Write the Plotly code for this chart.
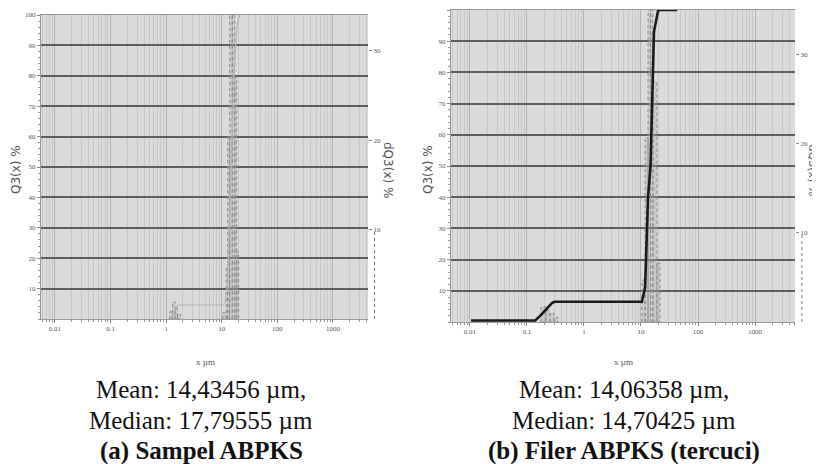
import plotly.graph_objects as go

# ---------------- data ----------------
# (a) Sampel ABPKS : cumulative Q3 (left axis) and class bars dQ3 (right axis)
a_q3_x = [1.1, 1.3, 1.45, 1.6, 10.5, 11.5, 12.5, 13.5, 15.0, 17.0, 19.0, 21.0]
a_q3_y = [0.0, 1.0, 3.0, 4.6, 4.6, 5.5, 10.0, 30.0, 60.0, 85.0, 97.0, 100.0]
a_bin_lo = [1.16, 1.30, 1.45, 1.60, 10.4, 12.0, 12.8, 13.9, 15.5, 17.2, 18.6]
a_bin_hi = [1.30, 1.45, 1.60, 1.82, 12.0, 12.8, 13.9, 15.5, 17.2, 18.6, 20.2]
a_dq3 = [0.8, 1.9, 1.2, 0.5, 0.7, 5.8, 20.4, 38.0, 36.0, 27.0, 7.5]

# (b) Filer ABPKS (tercuci)
b_q3_x = [0.0105, 0.14, 0.176, 0.233, 0.28, 0.31, 10.4, 11.8, 13.3, 14.7, 15.6, 16.9, 19.9, 21.5, 43.0]
b_q3_y = [0.5, 0.5, 2.2, 4.5, 6.2, 6.5, 6.5, 11.0, 40.0, 50.0, 68.0, 93.0, 99.7, 100.0, 100.0]
b_bin_lo = [0.176, 0.215, 0.253, 0.30, 10.4, 11.8, 13.3, 14.7, 16.2, 19.0]
b_bin_hi = [0.215, 0.253, 0.30, 0.35, 11.8, 13.3, 14.7, 16.2, 19.0, 21.5]
b_dq3 = [1.7, 1.3, 1.0, 0.5, 4.7, 20.7, 38.0, 38.0, 27.0, 6.6]

x_ticks = [0.01, 0.1, 1, 10, 100, 1000]
x_ticktext = ["0.01", "0.1", "1", "10", "100", "1000"]
q3_ticks = [10, 20, 30, 40, 50, 60, 70, 80, 90, 100]
dq3_ticks = [10, 20, 30]

captions = {
    "a": ["Mean: 14,43456 µm,", "Median: 17,79555 µm", "<b>(a) Sampel ABPKS</b>"],
    "b": ["Mean: 14,06358 µm,", "Median: 14,70425 µm", "<b>(b) Filer ABPKS (tercuci)</b>"],
}


def bar_polys(lo, hi, vals):
    xs, ys = [], []
    for l, h, v in zip(lo, hi, vals):
        xs += [l, l, h, h, l, None]
        ys += [0, v, v, 0, 0, None]
    return xs, ys


# the page body has an 8px default margin: the figure is 8px smaller and every
# target pixel position (in window coordinates) is shifted by OFF
OFF = 8
W, H = 820 - OFF, 464 - OFF
BG = "#dbdbdb"


def px_x(v):
    return (v - OFF) / W


def px_y(v):
    return 1 - (v - OFF) / H


def tickfont():
    return dict(family="Liberation Serif", size=7, color="#555555")


fig = go.Figure()

panels = [
    dict(x="x", yb="y", yo="y2", q3x=a_q3_x, q3y=a_q3_y, lo=a_bin_lo, hi=a_bin_hi, dq=a_dq3,
         px=(41, 368), py=(15, 319), xr=[-2.25, 3.63], dr=[0, 34],
         lcolor="#b4b4b4", lwidth=1.2),
    dict(x="x2", yb="y3", yo="y4", q3x=b_q3_x, q3y=b_q3_y, lo=b_bin_lo, hi=b_bin_hi, dq=b_dq3,
         px=(451, 795), py=(10, 322), xr=[-2.33, 3.70], dr=[0, 35],
         lcolor="#1a1a1a", lwidth=2.6),
]

layout = dict(
    width=W, height=H, paper_bgcolor="white", plot_bgcolor=BG,
    margin=dict(l=0, r=0, t=0, b=0, autoexpand=False), showlegend=False,
)

for p in panels:
    bx, by = bar_polys(p["lo"], p["hi"], p["dq"])
    fig.add_trace(go.Scatter(
        x=bx, y=by, xaxis=p["x"], yaxis=p["yb"], mode="lines", fill="toself",
        fillcolor="rgba(165,165,165,0.35)",
        line=dict(color="#8c8c8c", width=1, dash="dot"), hoverinfo="skip"))
    fig.add_trace(go.Scatter(
        x=p["q3x"], y=p["q3y"], xaxis=p["x"], yaxis=p["yo"], mode="lines",
        line=dict(color=p["lcolor"], width=p["lwidth"]), hoverinfo="skip"))

    xd = [px_x(p["px"][0]), px_x(p["px"][1])]
    yd = [px_y(p["py"][1]), px_y(p["py"][0])]
    xk = "xaxis" if p["x"] == "x" else "xaxis2"
    ybk = "yaxis" if p["yb"] == "y" else "yaxis" + p["yb"][1:]
    yok = "yaxis" + p["yo"][1:]

    layout[xk] = dict(
        type="log", domain=xd, range=p["xr"], anchor=p["yb"], automargin=False,
        tickvals=x_ticks, ticktext=x_ticktext, tickfont=tickfont(),
        showgrid=True, gridcolor="#b4b4b4", gridwidth=1,
        ticks="outside", ticklen=3, tickcolor="#888",
        showline=True, linecolor="#9a9a9a", linewidth=1, mirror=True,
        minor=dict(dtick="D1", showgrid=True, gridcolor="#c8c8c8", gridwidth=1,
                   ticks="outside", ticklen=2, tickcolor="#999"),
        zeroline=False, fixedrange=True,
    )
    layout[ybk] = dict(
        domain=yd, range=p["dr"], anchor=p["x"], side="right", automargin=False,
        tickvals=dq3_ticks, tickfont=tickfont(), ticks="outside", ticklen=3,
        tickcolor="#888", showgrid=False, showline=False, zeroline=False,
    )
    layout[yok] = dict(
        overlaying=p["yb"], side="left", anchor=p["x"], range=[0, 100], automargin=False,
        tickvals=q3_ticks, tickfont=tickfont(), ticks="outside", ticklen=3,
        tickcolor="#888", showgrid=True, gridcolor="#5e5e5e", gridwidth=1.6,
        showline=True, linecolor="#9a9a9a", mirror=False, zeroline=False,
        minor=dict(dtick=2, ticks="outside", ticklen=2, tickcolor="#999"),
    )

fig.update_layout(**layout)

# dotted right-axis segment (0-10 of dQ3)
for xr, yref in [("x domain", "y"), ("x2 domain", "y3")]:
    fig.add_shape(type="line", xref=xr, yref=yref, x0=1.02, x1=1.02, y0=0, y1=10,
                  line=dict(color="#777", width=1, dash="dot"))

ann = []
for cx, cxr, cy, fs in [(16, 388, 170, 12), (428, 812.5, 170, 11)]:
    ann.append(dict(x=px_x(cx), y=px_y(cy), xref="paper", yref="paper", text="Q3(x) %",
                    xanchor="center", yanchor="middle",
                    textangle=-90, showarrow=False, font=dict(family="DejaVu Sans", size=12, color="#555")))
    ann.append(dict(x=px_x(cxr), y=px_y(cy), xref="paper", yref="paper", text="dQ3(x) %",
                    xanchor="center", yanchor="middle",
                    textangle=90, showarrow=False, font=dict(family="DejaVu Sans", size=fs, color="#555")))
for cx in (205, 623):
    ann.append(dict(x=px_x(cx), y=px_y(362), xref="paper", yref="paper", text="x µm",
                    xanchor="center", yanchor="middle",
                    showarrow=False, font=dict(family="Liberation Serif", size=9, color="#555")))

for key, cx in (("a", 201), ("b", 624)):
    for j, t in enumerate(captions[key]):
        ann.append(dict(x=px_x(cx), y=px_y(389 + 31 * j), xref="paper", yref="paper",
                        text=t, showarrow=False, xanchor="center", yanchor="middle",
                        font=dict(family="Liberation Serif", size=25, color="#111")))

fig.update_layout(annotations=ann)
fig.write_html("out.html")
